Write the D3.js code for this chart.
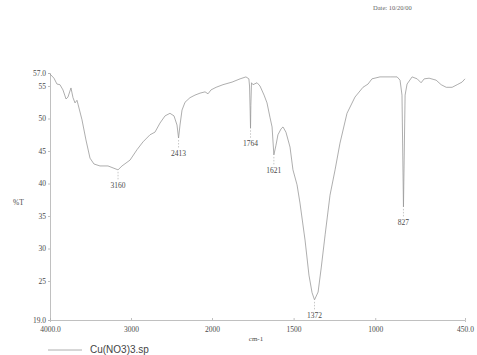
<!DOCTYPE html>
<html>
<head>
<meta charset="utf-8">
<script src="https://cdn.jsdelivr.net/npm/d3@7"></script>
<style>
  body { margin: 0; background: #fff; }
  svg { display: block; }
</style>
</head>
<body>
<svg width="477" height="355"></svg>
<script>
// spectrum trace: wavenumber (cm-1) and %T
const wavenumbers = [4000, 3951, 3914, 3877, 3840, 3802, 3778, 3741, 3716, 3691, 3667, 3654,
  3605, 3556, 3506, 3457, 3383, 3284, 3222, 3160, 3111, 3012, 2926, 2852, 2765, 2704,
  2642, 2580, 2519, 2469, 2432, 2413, 2395, 2370, 2333, 2272, 2210, 2148, 2086, 2049,
  2012, 1975, 1933, 1877, 1828, 1792, 1774, 1770, 1766, 1764, 1762, 1758, 1749, 1724,
  1706, 1681, 1663, 1645, 1632, 1621, 1608, 1596, 1577, 1565, 1547, 1522, 1504, 1479,
  1461, 1430, 1406, 1387, 1372, 1350, 1331, 1307, 1277, 1246, 1216, 1173, 1124, 1075,
  1044, 1020, 971, 909, 866, 848, 836, 827, 817, 805, 774, 743, 719, 700, 670, 627,
  596, 565, 529, 498, 468, 450];
const transmittance = [56.85, 56.2, 55.3, 55.2, 54.4, 53.0, 53.3, 54.7, 53.2, 52.4, 52.8, 52.2,
  49.8, 46.7, 43.9, 43.0, 42.7, 42.7, 42.4, 42.1, 42.7, 43.6, 45.2, 46.4, 47.5, 47.9,
  49.3, 50.4, 50.8, 50.4, 49.0, 47.0, 49.0, 51.3, 52.5, 53.2, 53.6, 53.9, 54.1, 53.8,
  54.4, 54.8, 55.2, 55.6, 56.1, 56.4, 56.1, 55.0, 51.0, 48.5, 52.0, 55.5, 55.2, 55.5,
  55.0, 53.6, 52.4, 50.2, 48.7, 44.4, 45.9, 47.5, 48.4, 48.7, 47.9, 45.6, 42.1, 39.8,
  37.0, 31.3, 25.9, 23.2, 22.1, 23.3, 27.0, 32.1, 38.2, 42.1, 46.2, 50.8, 53.3, 54.8,
  55.3, 56.1, 56.4, 56.4, 56.4, 55.9, 53.6, 36.4, 53.6, 55.3, 56.4, 56.1, 55.5, 56.1,
  56.2, 55.9, 55.2, 54.8, 54.8, 55.2, 55.6, 56.1];

// labelled peaks
const peakWn = [3160, 2413, 1764, 1621, 1372, 827];
const peakT = [42.1, 47.0, 48.5, 44.4, 22.1, 36.4];
const peakLabels = ["3160", "2413", "1764", "1621", "1372", "827"];

const xTicks = [4000, 3000, 2000, 1500, 1000, 450];
const xTickLabels = ["4000.0", "3000", "2000", "1500", "1000", "450.0"];
const yTicks = [57, 55, 50, 45, 40, 35, 30, 25, 19];
const yTickLabels = ["57.0", "55", "50", "45", "40", "35", "30", "25", "19.0"];

const svg = d3.select("svg");
const serif = "'Liberation Serif', 'DejaVu Serif', serif";
const axisColor = "#b0b0b0";
const textColor = "#4a4a4a";

// abscissa expanded 2x below 2000 cm-1
const x = d3.scaleLinear().domain([4000, 2000, 450]).range([50, 212, 465]);
const y = d3.scaleLinear().domain([19, 57]).range([320, 73]);

// axes
const xAxis = svg.append("g")
    .attr("transform", `translate(0, ${y(19)})`)
    .call(d3.axisBottom(x).tickValues(xTicks).tickSize(2)
        .tickFormat((d, i) => xTickLabels[i]));
const yAxis = svg.append("g")
    .attr("transform", `translate(${x(4000)}, 0)`)
    .call(d3.axisLeft(y).tickValues(yTicks).tickSize(2)
        .tickFormat((d, i) => yTickLabels[i]));

[xAxis, yAxis].forEach((g) => {
    g.select(".domain").attr("stroke", axisColor).attr("stroke-width", 0.8);
    g.selectAll(".tick line").attr("stroke", axisColor).attr("stroke-width", 0.8);
    g.selectAll(".tick text")
        .attr("fill", textColor)
        .style("font-family", serif)
        .style("font-size", "7.5px");
});
xAxis.selectAll(".tick text").attr("dy", "0.9em");
xAxis.selectAll(".tick line").attr("y2", -2);
yAxis.selectAll(".tick text").attr("x", -4);

// spectrum
const line = d3.line()
    .x((d) => x(d[0]))
    .y((d) => y(d[1]));
svg.append("path")
    .datum(d3.zip(wavenumbers, transmittance))
    .attr("d", line)
    .attr("fill", "none")
    .attr("stroke", "#999")
    .attr("stroke-width", 0.8)
    .attr("stroke-linejoin", "round");

// peak markers
const peaks = svg.append("g");
peakWn.forEach((wn, i) => {
    const px = x(wn);
    const py = y(peakT[i]);
    peaks.append("line")
        .attr("x1", px).attr("x2", px)
        .attr("y1", py + 2).attr("y2", py + 10)
        .attr("stroke", "#b0b0b0")
        .attr("stroke-width", 0.7)
        .attr("stroke-dasharray", "1.5,1.5");
    peaks.append("text")
        .attr("x", px)
        .attr("y", py + 18)
        .attr("text-anchor", "middle")
        .attr("fill", textColor)
        .style("font-family", serif)
        .style("font-size", "7.5px")
        .text(peakLabels[i]);
});

// axis titles
svg.append("text")
    .attr("x", 13).attr("y", 205)
    .attr("fill", textColor)
    .style("font-family", serif)
    .style("font-size", "7.5px")
    .text("%T");
svg.append("text")
    .attr("x", 256).attr("y", 341)
    .attr("text-anchor", "middle")
    .attr("fill", textColor)
    .style("font-family", serif)
    .style("font-size", "7px")
    .text("cm-1");

// date stamp
svg.append("text")
    .attr("x", 373).attr("y", 10)
    .attr("fill", "#666")
    .style("font-family", serif)
    .style("font-size", "6.5px")
    .text("Date: 10/20/00");

// legend
svg.append("line")
    .attr("x1", 48).attr("x2", 82)
    .attr("y1", 350).attr("y2", 350)
    .attr("stroke", "#999")
    .attr("stroke-width", 0.8);
svg.append("text")
    .attr("x", 90).attr("y", 353)
    .attr("fill", "#444")
    .style("font-family", "'Liberation Sans', Arial, sans-serif")
    .style("font-size", "10px")
    .text("Cu(NO3)3.sp");
</script>
</body>
</html>
